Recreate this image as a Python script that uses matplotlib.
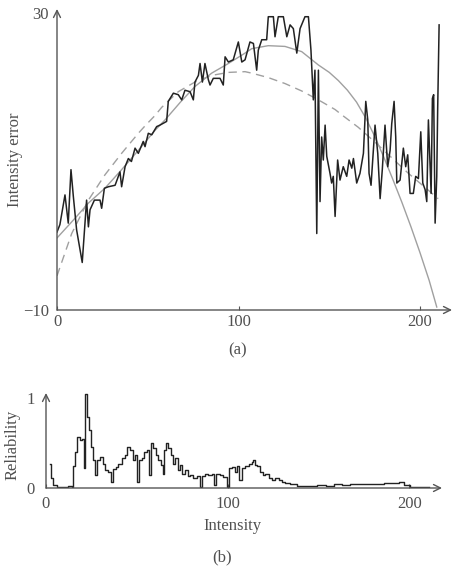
import matplotlib
matplotlib.use("Agg")
import matplotlib.pyplot as plt

plt.rcParams["font.family"] = ["Liberation Serif", "DejaVu Serif"]

# (a) intensity error: measured curve
err_x = [0, 1.6, 4.4, 6.2, 7.7, 9.0, 10.8, 13.9, 16.3, 17.3, 18.2, 20.6, 23.7, 24.6,
         26.1, 28.3, 32, 34.7, 35.6, 37.5, 39.3, 41, 43, 44.8, 47.5, 48.5, 50.3, 52.2,
         54.9, 56.7, 60.4, 61.3, 64.1, 66.8, 68.7, 70.5, 73.3, 75.1, 76.0, 77.9, 78.8,
         80.1, 81.5, 83.4, 84.3, 86.1, 89.8, 91.6, 92.6, 94.4, 97.1, 99.9, 101.8, 103.6,
         106.3, 108.2, 110.0, 110.9, 112.8, 115.5, 116.4, 119.2, 120.1, 121.9, 124.7,
         126.6, 128.4, 130.2, 132.1, 133.9, 136.6, 138.5, 139.9, 141.2, 142.1, 143.1,
         144.0, 144.9, 145.8, 146.7, 147.7, 148.6, 150.4, 151.3, 152.2, 153.2, 154.6,
         155.9, 157.7, 159.6, 160.9, 162.4, 163.3, 165.1, 166.9, 168.8, 170.1, 171.2,
         171.9, 173.0, 174.3, 175.2, 176.7, 178.0, 179.2, 180.7, 182.2, 183.5, 184.4,
         185.7, 186.6, 187.2, 189.0, 190.8, 192.1, 193.2, 194.5, 196.3, 197.6, 199.1,
         200.4, 201.5, 202.8, 203.7, 204.6, 206.1, 206.8, 207.5, 208.3, 209.2, 209.7, 210.5]
err_y = [0.5, 1.5, 5.5, 1.7, 8.9, 5.3, 0.8, -3.6, 4.8, 1.2, 3.5, 4.8, 4.8, 3.7,
         6.4, 6.6, 6.8, 8.6, 6.6, 9.3, 10.4, 10.0, 11.8, 11.1, 12.7, 12.0, 13.8, 13.6,
         14.7, 14.9, 15.4, 18.1, 19.2, 19.0, 18.3, 19.6, 19.4, 18.3, 20.7, 21.6, 23.2,
         20.7, 23.2, 21.0, 20.3, 21.2, 21.2, 20.3, 24.1, 23.4, 23.7, 26.1, 23.4, 23.7,
         26.1, 25.9, 22.3, 25.0, 26.4, 26.4, 29.5, 29.5, 26.8, 29.5, 29.5,
         26.8, 28.4, 27.9, 24.6, 27.9, 29.5, 29.5, 25.0, 18.3, 22.3, 0.3,
         22.3, 4.6, 13.3, 10.2, 14.9, 10.7, 8.4, 7.1, 8.0, 2.6, 10.2,
         7.5, 9.3, 8.0, 10.2, 9.1, 10.4, 7.1, 8.4, 11.1, 18.1, 15.6,
         8.4, 6.8, 11.5, 14.9, 11.1, 5.0, 8.9, 14.9, 9.3, 11.5, 15.1,
         18.1, 13.3, 7.1, 7.5, 11.8, 9.3, 10.9, 5.7, 5.7, 8.0, 7.7,
         14.0, 7.1, 6.2, 4.6, 15.6, 5.7, 18.5, 19.0, 1.7, 8.0, 16.9, 28.4]

# (a) solid fitted curve
fit1_x = [0, 9.9, 17.3, 26.4, 35.6, 44.8, 54, 59.5, 68, 76, 85.2, 94.4, 103.6, 107.3,
          116.4, 125.6, 134.8, 144, 150, 155, 160, 165, 170, 175, 180, 185, 190, 195,
          200, 205, 209.2]
fit1_y = [-0.3, 2.35, 4.4, 6.4, 8.9, 11.5, 14.2, 15.6, 18.0, 20.1, 21.9, 23.2, 24.6, 25.2,
          25.6, 25.5, 24.8, 23.0, 22.0, 20.9, 19.6, 18.0, 15.9, 13.4, 10.6, 7.6, 4.5, 1.2,
          -2.3, -6.0, -9.6]

# (a) dashed fitted curve
fit2_x = [0, 8.1, 17.3, 26.4, 35.6, 44.8, 48.5, 54, 57.7, 66.8, 76, 85.2, 94.4, 103.6,
          107.3, 116.4, 125.6, 134.8, 144, 153.2, 156.8, 166, 175.2, 184.4, 193.6,
          202.8, 210]
fit2_y = [-5.4, 0.3, 4.8, 8.2, 11.1, 13.8, 14.8, 16.2, 17.3, 19.4, 20.7, 21.6, 22.0, 22.1,
          21.9, 21.3, 20.5, 19.5, 18.3, 17.0, 16.3, 14.6, 12.6, 10.5, 8.4, 6.5, 5.0]

# (b) reliability
rel_x = [2.2, 2.6, 4, 5.9, 8, 10, 12, 14.1, 15.1, 16, 17.3, 18.7, 19.6, 20.9, 21.5, 22.8,
         23.9, 24.8, 25.7, 27, 27.9, 29.8, 31.2, 32.5, 34.3, 35.8, 36.7, 38.6, 39.9,
         41.7, 43.5, 44.8, 46.3, 47.8, 49, 50.3, 51.4, 52.7, 54, 55.5, 56.7, 57.7, 59.1,
         60.6, 61.9, 63.2, 64.3, 65, 66.1, 67.4, 68.7, 69.8, 71.1, 72.4, 73.8, 75.1,
         76.6, 77.9, 79.3, 80.8, 83, 84.8, 85.8, 87.6, 89.4, 91.3, 92.6, 93.7, 95.9,
         97.7, 99.5, 101, 102.3, 103.8, 105, 106.5, 107.8, 109.6, 111.5, 113.3, 114.2,
         115.2, 116.4, 117.9, 119.4, 120.7, 122.5, 124.3, 126.2, 128, 129.8, 131.7,
         134.4, 138.1, 141.8, 149, 154, 158.3, 163, 167.5, 172, 176.7, 181, 185.9, 190,
         194.1, 196.9, 200.6, 210.7]
rel_y = [0.27, 0.11, 0.03, 0.01, 0.015, 0.01, 0.02, 0.01, 0.24, 0.40, 0.57, 0.53, 0.55,
         0.22, 1.05, 0.79, 0.64, 0.46, 0.31, 0.14, 0.31, 0.34, 0.27, 0.20, 0.18, 0.07,
         0.21, 0.23, 0.27, 0.33, 0.37, 0.46, 0.42, 0.31, 0.37, 0.07, 0.31, 0.33, 0.40,
         0.42, 0.14, 0.50, 0.44, 0.37, 0.31, 0.26, 0.16, 0.42, 0.50, 0.44, 0.37, 0.27,
         0.33, 0.20, 0.26, 0.16, 0.20, 0.13, 0.14, 0.11, 0.13, 0.015, 0.13, 0.16, 0.14,
         0.16, 0.03, 0.16, 0.14, 0.12, 0.015, 0.22, 0.23, 0.18, 0.24, 0.09, 0.22, 0.24,
         0.27, 0.29, 0.31, 0.26, 0.24, 0.18, 0.14, 0.16, 0.11, 0.09, 0.11, 0.09, 0.07,
         0.06, 0.045, 0.02, 0.02, 0.03, 0.025, 0.04, 0.035, 0.045, 0.04, 0.05, 0.045,
         0.06, 0.055, 0.07, 0.03, 0.01, 0.01]

AX = "#555555"
TXT = "#505050"
FS = 12

fig = plt.figure(figsize=(4.55, 5.67), dpi=100)


def arrow_axes(ax):
    for s in ax.spines.values():
        s.set_visible(False)
    style = dict(arrowstyle="->,head_length=0.5,head_width=0.25", color=AX, lw=1.0,
                 shrinkA=0, shrinkB=0)
    ax.annotate("", xy=(1, 0), xytext=(0, 0), xycoords="axes fraction",
                arrowprops=style, annotation_clip=False)
    ax.annotate("", xy=(0, 1), xytext=(0, 0), xycoords="axes fraction",
                arrowprops=style, annotation_clip=False)
    ax.tick_params(direction="in", length=3, color=AX, labelcolor=TXT, labelsize=FS)


def px_text(x, y, s, **kw):
    fig.text(x / 455, 1 - y / 567, s, ha="center", va="center", color=TXT,
             fontsize=FS, **kw)


# top panel
ax1 = fig.add_axes([57 / 455, 1 - 310 / 567, 395 / 455, 301 / 567])
ax1.plot(fit1_x, fit1_y, color="#a0a0a0", lw=1.0)
ax1.plot(fit2_x, fit2_y, color="#a0a0a0", lw=1.0, dashes=(6, 4))
ax1.plot(err_x, err_y, color="#222222", lw=1.1)
ax1.set_xlim(0, 217.6)
ax1.set_ylim(-10, 30.54)
ax1.set_xticks([0, 100, 200])
ax1.set_yticks([-10, 30])
ax1.set_yticklabels(["\u221210", "30"])
arrow_axes(ax1)
ax1.tick_params(axis="x", pad=3)
ax1.tick_params(axis="y", length=0, pad=6)
px_text(15, 160, "Intensity error", rotation=90)
px_text(238, 350, "(a)")

# bottom panel
ax2 = fig.add_axes([46 / 455, 1 - 488 / 567, 396 / 455, 95 / 567])
ax2.step(rel_x, rel_y, where="post", color="#222222", lw=1.0)
ax2.set_xlim(0, 218)
ax2.set_ylim(0, 1.056)
ax2.set_xticks([0, 100, 200])
ax2.set_yticks([0, 1])
arrow_axes(ax2)
ax2.tick_params(axis="x", pad=6)
ax2.tick_params(axis="y", length=0, pad=8)
px_text(13, 445, "Reliability", rotation=90)
px_text(232, 526, "Intensity")
px_text(222, 557, "(b)")

fig.savefig("out.png", dpi=100)
